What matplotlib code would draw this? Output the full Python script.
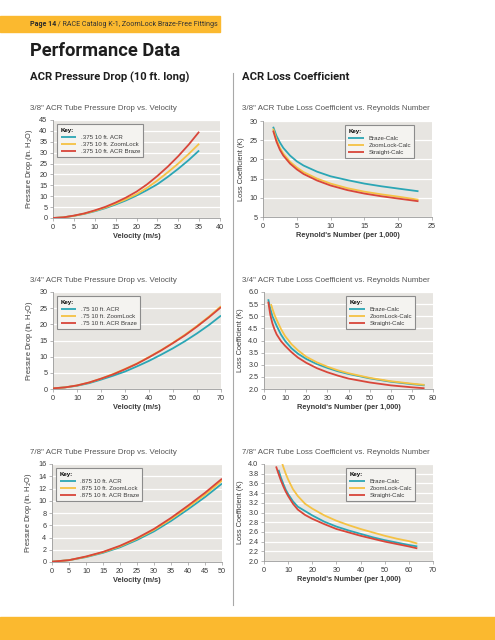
import matplotlib.pyplot as plt
from matplotlib.lines import Line2D
from matplotlib.patches import Rectangle

# 3/8" pressure drop
p38_vel = [0, 2.5, 5, 7.5, 10, 12.5, 15, 17.5, 20, 22.5, 25, 27.5, 30, 32.5, 35]
p38_acr = [0, 0.3, 1.0, 1.9, 3.1, 4.5, 6.2, 8.1, 10.3, 12.8, 15.5, 18.9, 22.6, 26.6, 31.0]
p38_zoom = [0, 0.3, 1.0, 2.0, 3.3, 4.8, 6.6, 8.6, 10.9, 13.8, 17.2, 21.0, 25.0, 29.4, 34.1]
p38_braze = [0, 0.3, 1.1, 2.1, 3.5, 5.1, 7.1, 9.4, 12.1, 15.4, 19.3, 23.6, 28.4, 33.7, 39.6]

# 3/8" loss coefficient
k38_re = [1.5, 2, 2.5, 3, 4, 5, 6, 8, 10, 12.5, 15, 17.5, 20, 23]
k38_braze = [28.5, 26.1, 24.4, 23.0, 21.0, 19.5, 18.4, 16.8, 15.6, 14.6, 13.7, 13.0, 12.4, 11.7]
k38_zoom = [28.0, 25.1, 23.0, 21.5, 19.4, 17.9, 16.7, 15.0, 13.7, 12.5, 11.6, 10.9, 10.3, 9.5]
k38_straight = [27.5, 24.6, 22.5, 21.0, 18.9, 17.4, 16.2, 14.5, 13.2, 12.0, 11.1, 10.4, 9.8, 9.1]

# 3/4" pressure drop
p34_vel = [0, 5, 10, 15, 20, 25, 30, 35, 40, 45, 50, 55, 60, 65, 70]
p34_acr = [0.2, 0.5, 1.0, 1.8, 2.9, 4.1, 5.4, 7.0, 8.7, 10.6, 12.6, 14.8, 17.2, 19.8, 22.7]
p34_zoom = [0.2, 0.5, 1.1, 2.0, 3.2, 4.6, 6.2, 7.9, 9.9, 12.0, 14.3, 16.8, 19.5, 22.4, 25.6]
p34_braze = [0.2, 0.5, 1.1, 2.0, 3.2, 4.5, 6.1, 7.8, 9.8, 11.9, 14.2, 16.6, 19.3, 22.2, 25.3]

# 3/4" loss coefficient
k34_re_braze = [2, 3, 4, 5, 6, 8, 10, 13, 16, 20, 25, 30, 35, 40, 50, 60, 70, 76]
k34_braze = [5.7, 5.3, 5.0, 4.8, 4.6, 4.25, 3.98, 3.68, 3.46, 3.24, 3.03, 2.87, 2.73, 2.62, 2.44, 2.30, 2.20, 2.15]
k34_re_zoom = [3.3, 4, 5, 6, 8, 10, 13, 16, 20, 25, 30, 35, 40, 50, 60, 70, 76]
k34_zoom = [5.5, 5.3, 5.05, 4.85, 4.48, 4.18, 3.85, 3.6, 3.33, 3.1, 2.92, 2.77, 2.65, 2.46, 2.32, 2.22, 2.17]
k34_re_straight = [2, 3, 4, 5, 6, 8, 10, 13, 16, 20, 25, 30, 35, 40, 50, 60, 70, 76]
k34_straight = [5.6, 5.05, 4.7, 4.45, 4.25, 3.98, 3.78, 3.52, 3.3, 3.08, 2.86, 2.69, 2.55, 2.43, 2.27, 2.15, 2.07, 2.03]

# 7/8" pressure drop
p78_vel = [0, 5, 10, 15, 20, 25, 30, 35, 40, 45, 50]
p78_acr = [0.05, 0.3, 0.8, 1.5, 2.4, 3.6, 5.0, 6.7, 8.6, 10.6, 12.8]
p78_zoom = [0.05, 0.3, 0.85, 1.6, 2.55, 3.8, 5.25, 7.0, 8.95, 11.0, 13.3]
p78_braze = [0.05, 0.3, 0.9, 1.65, 2.65, 3.9, 5.4, 7.2, 9.2, 11.3, 13.6]

# 7/8" loss coefficient
k78_re_braze = [6, 7, 8, 9, 10, 12, 14, 17, 20, 25, 30, 35, 40, 45, 50, 55, 60, 63.5]
k78_braze = [3.88, 3.72, 3.59, 3.47, 3.38, 3.23, 3.12, 3.03, 2.94, 2.81, 2.71, 2.63, 2.56, 2.49, 2.43, 2.38, 2.33, 2.30]
k78_re_zoom = [7.6, 8, 9, 10, 12, 14, 17, 20, 25, 30, 35, 40, 45, 50, 55, 60, 63.5]
k78_zoom = [4.0, 3.94, 3.8, 3.68, 3.48, 3.34, 3.18, 3.08, 2.94, 2.83, 2.74, 2.66, 2.59, 2.52, 2.46, 2.41, 2.36]
k78_re_straight = [5, 6, 7, 8, 9, 10, 12, 14, 17, 20, 25, 30, 35, 40, 45, 50, 55, 60, 63.5]
k78_straight = [3.95, 3.8, 3.66, 3.54, 3.43, 3.34, 3.18, 3.06, 2.95, 2.87, 2.76, 2.66, 2.59, 2.52, 2.46, 2.4, 2.35, 2.3, 2.26]

TEAL = '#2ba6b5'
YELLOW = '#f5c244'
RED = '#d8463a'
BG = '#e7e5e1'
TXT = '#3a3a3a'
HEAD = ['Roboto', 'DejaVu Sans']

plt.rcParams['font.family'] = ['Liberation Sans', 'DejaVu Sans']

fig = plt.figure(figsize=(4.95, 6.4), dpi=100)


def px_axes(x0, y0, x1, y1):
    # pixel box (top-left origin) -> figure axes
    return fig.add_axes([x0 / 495, 1 - y1 / 640, (x1 - x0) / 495, (y1 - y0) / 640])


def draw_panel(ax, series, xlim, ylim, xticks, yticks, xlabel, ylabel, legend_x, yfmt=None):
    ax.set_facecolor(BG)
    for x, y, c, lab in series:
        ax.plot(x, y, color=c, lw=1.3, label=lab, solid_capstyle='butt', zorder=3)
    ax.set_xlim(*xlim)
    ax.set_ylim(*ylim)
    ax.set_xticks(xticks)
    ax.set_yticks(yticks)
    if yfmt:
        ax.set_yticklabels([yfmt.format(v) for v in yticks])
    ax.grid(axis='y', color='white', lw=0.9, zorder=1)
    ax.set_axisbelow(True)
    for s in ['top', 'right']:
        ax.spines[s].set_visible(False)
    for s in ['left', 'bottom']:
        ax.spines[s].set_color('#9a9a9a')
        ax.spines[s].set_linewidth(0.6)
    ax.tick_params(labelsize=5.2, colors='#9a9a9a', labelcolor=TXT, length=2.5, width=0.5, pad=1.5)
    ax.set_xlabel(xlabel, fontsize=5.3, fontweight='bold', color=TXT, labelpad=2)
    ax.set_ylabel(ylabel, fontsize=5.3, color=TXT, labelpad=3)
    leg = ax.legend(loc='upper left', bbox_to_anchor=(legend_x, 0.955), fontsize=4.4,
                    title='Key:', title_fontproperties={'weight': 'bold', 'size': 4.4},
                    alignment='left', frameon=True, fancybox=False, handlelength=2.6,
                    handletextpad=0.7, labelspacing=0.3, borderpad=0.55, borderaxespad=0)
    leg.get_frame().set_edgecolor('#8c8c8c')
    leg.get_frame().set_linewidth(0.8)
    leg.get_frame().set_facecolor('#f4f3f0')
    leg.get_frame().set_alpha(1)
    for t in leg.get_texts():
        t.set_color(TXT)


# header / footer bars
fig.patches.append(Rectangle((0, 1 - 32 / 640), 220 / 495, 16 / 640, transform=fig.transFigure,
                             color='#fbb92f', zorder=0))
fig.patches.append(Rectangle((0, 0), 1, 23 / 640, transform=fig.transFigure,
                             color='#fbb92f', zorder=0))
page = fig.text(30 / 495, 1 - 24.5 / 640, 'Page 14', fontsize=5.1, fontweight='bold',
                color='#2a2a2a', va='center', family=HEAD)
fig.add_artist(plt.Annotation(' / RACE Catalog K-1, ZoomLock Braze-Free Fittings', xy=(1, 0.5),
                              xycoords=page, va='center', ha='left', fontsize=5.1,
                              color='#333333', family=HEAD))
fig.text(30 / 495, 1 - 51 / 640, 'Performance Data', fontsize=13.2, fontweight='bold',
         color='#1e1e1e', va='center', family=HEAD)
fig.text(30 / 495, 1 - 77.5 / 640, 'ACR Pressure Drop (10 ft. long)', fontsize=8.1, fontweight='bold',
         color='#1e1e1e', va='center', family=HEAD)
fig.text(242 / 495, 1 - 77.5 / 640, 'ACR Loss Coefficient', fontsize=8.1, fontweight='bold',
         color='#1e1e1e', va='center', family=HEAD)
fig.lines.append(Line2D([233 / 495, 233 / 495], [1 - 73 / 640, 1 - 605 / 640], transform=fig.transFigure,
                        color='#a8a8a8', lw=0.8))

titles_left = ['3/8" ACR Tube Pressure Drop vs. Velocity',
               '3/4" ACR Tube Pressure Drop vs. Velocity',
               '7/8" ACR Tube Pressure Drop vs. Velocity']
titles_right = ['3/8" ACR Tube Loss Coefficient vs. Reynolds Number',
                '3/4" ACR Tube Loss Coefficient vs. Reynolds Number',
                '7/8" ACR Tube Loss Coefficient vs. Reynolds Number']
title_y = [108, 281, 453]
for t, y in zip(titles_left, title_y):
    fig.text(30 / 495, 1 - y / 640, t, fontsize=5.7, color='#555555', va='center')
for t, y in zip(titles_right, title_y):
    fig.text(242 / 495, 1 - y / 640, t, fontsize=5.7, color='#555555', va='center')

PLABEL = 'Pressure Drop (in. H$_2$O)'
KLABEL = 'Loss Coefficient (K)'
VLABEL = 'Velocity (m/s)'
RLABEL = "Reynold's Number (per 1,000)"

ax = px_axes(53, 120, 220, 218)
draw_panel(ax, [(p38_vel, p38_acr, TEAL, '.375 10 ft. ACR'),
                (p38_vel, p38_zoom, YELLOW, '.375 10 ft. ZoomLock'),
                (p38_vel, p38_braze, RED, '.375 10 ft. ACR Braze')],
           (0, 40), (0, 45), range(0, 41, 5), range(0, 46, 5), VLABEL, PLABEL, 0.025)

ax = px_axes(263, 121, 432, 217)
draw_panel(ax, [(k38_re, k38_braze, TEAL, 'Braze-Calc'),
                (k38_re, k38_zoom, YELLOW, 'ZoomLock-Calc'),
                (k38_re, k38_straight, RED, 'Straight-Calc')],
           (0, 25), (5, 30), range(0, 26, 5), range(5, 31, 5), RLABEL, KLABEL, 0.485)

ax = px_axes(53, 292, 221, 389)
draw_panel(ax, [(p34_vel, p34_acr, TEAL, '.75 10 ft. ACR'),
                (p34_vel, p34_zoom, YELLOW, '.75 10 ft. ZoomLock'),
                (p34_vel, p34_braze, RED, '.75 10 ft. ACR Braze')],
           (0, 70), (0, 30), range(0, 71, 10), range(0, 31, 5), VLABEL, PLABEL, 0.025)

ax = px_axes(264, 292, 433, 389)
draw_panel(ax, [(k34_re_braze, k34_braze, TEAL, 'Braze-Calc'),
                (k34_re_zoom, k34_zoom, YELLOW, 'ZoomLock-Calc'),
                (k34_re_straight, k34_straight, RED, 'Straight-Calc')],
           (0, 80), (2, 6), range(0, 81, 10), [2 + 0.5 * i for i in range(9)], RLABEL, KLABEL, 0.485,
           yfmt='{:.1f}')

ax = px_axes(52, 464, 222, 562)
draw_panel(ax, [(p78_vel, p78_acr, TEAL, '.875 10 ft. ACR'),
                (p78_vel, p78_zoom, YELLOW, '.875 10 ft. ZoomLock'),
                (p78_vel, p78_braze, RED, '.875 10 ft. ACR Braze')],
           (0, 50), (0, 16), range(0, 51, 5), range(0, 17, 2), VLABEL, PLABEL, 0.025)

ax = px_axes(264, 464, 433, 561)
draw_panel(ax, [(k78_re_braze, k78_braze, TEAL, 'Braze-Calc'),
                (k78_re_zoom, k78_zoom, YELLOW, 'ZoomLock-Calc'),
                (k78_re_straight, k78_straight, RED, 'Straight-Calc')],
           (0, 70), (2, 4), range(0, 71, 10), [2 + 0.2 * i for i in range(11)], RLABEL, KLABEL, 0.485,
           yfmt='{:.1f}')

fig.savefig('out.png', dpi=100)
